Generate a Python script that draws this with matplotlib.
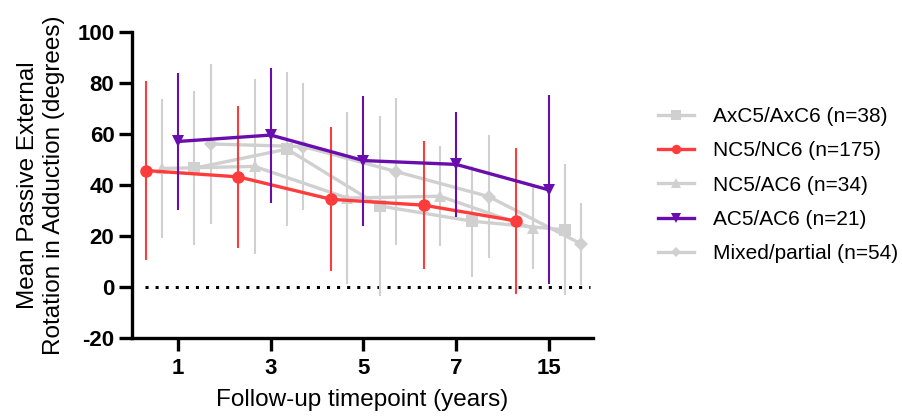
import matplotlib
matplotlib.use("Agg")
import matplotlib.pyplot as plt
from matplotlib.lines import Line2D
import numpy as np

plt.rcParams["font.family"] = ["Liberation Sans", "DejaVu Sans"]
plt.rcParams["axes.unicode_minus"] = False

timepoints = ["1", "3", "5", "7", "15"]

groups = ["AxC5/AxC6 (n=38)", "NC5/NC6 (n=175)", "NC5/AC6 (n=34)", "AC5/AC6 (n=21)", "Mixed/partial (n=54)"]

axc_mean = [46.5, 54.0, 31.7, 25.7, 22.3]
axc_sd = [30.3, 30.2, 35.3, 21.8, 25.7]
nc_mean = [45.6, 43.1, 34.3, 32.0, 25.8]
nc_sd = [35.3, 27.8, 28.2, 25.2, 28.7]
ncac_mean = [46.4, 47.2, 34.8, 35.5, 23.0]
ncac_sd = [27.4, 34.2, 33.6, 19.7, 16.0]
ac_mean = [57.0, 59.5, 49.5, 48.0, 38.0]
ac_sd = [27.0, 26.5, 25.5, 20.7, 37.1]
mixed_mean = [56.0, 55.0, 45.2, 35.4, 16.8]
mixed_sd = [31.2, 24.8, 29.0, 24.0, 16.0]

GRAY = "#d0d0d0"
RED = "#ff3c3c"
PURPLE = "#6a0dad"

# (mean, sd, x offset, colour, marker, zorder)
styles = [
    (axc_mean, axc_sd, 0.175, GRAY, "s", 2),
    (nc_mean, nc_sd, -0.35, RED, "o", 4),
    (ncac_mean, ncac_sd, -0.175, GRAY, "^", 2),
    (ac_mean, ac_sd, 0.0, PURPLE, "v", 5),
    (mixed_mean, mixed_sd, 0.35, GRAY, "D", 2),
]

fig = plt.figure(figsize=(9.03, 4.19), dpi=100)
ax = fig.add_axes([0.146, 0.194, 0.511, 0.730])

x = np.arange(len(timepoints))
handles = []
for label, (mean, sd, off, color, marker, z) in zip(groups, styles):
    ms = 9 if marker != "D" else 7
    ax.errorbar(
        x + off, mean, yerr=sd,
        color=color, ecolor=color, elinewidth=1.5, capsize=4.3, capthick=1.5,
        linewidth=2.4, marker=marker, markersize=ms,
        markeredgewidth=0, zorder=z,
    )
    handles.append(Line2D([], [], color=color, linewidth=2.4, marker=marker,
                          markersize=ms * 0.75, markeredgewidth=0, label=label))

ax.plot([-0.36, 4.45], [0, 0], color="black", linestyle=(0, (1, 2.3)), linewidth=2.2, zorder=1)

ax.set_xlim(-0.5, 4.48)
ax.set_ylim(-20, 100)
ax.set_yticks(np.arange(-20, 101, 20))
ax.set_xticks(x)
ax.set_xticklabels(timepoints)

for side in ["top", "right"]:
    ax.spines[side].set_visible(False)
for side in ["left", "bottom"]:
    ax.spines[side].set_linewidth(2.4)
ax.tick_params(axis="both", width=2.4, length=9.5, labelsize=16)
ax.tick_params(axis="x", pad=5)
ax.tick_params(axis="y", pad=3)
for t in ax.get_xticklabels() + ax.get_yticklabels():
    t.set_fontweight("bold")

ax.set_xlabel("Follow-up timepoint (years)", fontsize=17.5, labelpad=7)
ax.set_ylabel("Mean Passive External\nRotation in Adduction (degrees)", fontsize=17.5,
              labelpad=9, linespacing=1.2)

ax.legend(handles=handles, loc="upper left", bbox_to_anchor=(0.72, 0.764), bbox_transform=fig.transFigure,
          frameon=False, fontsize=15, handlelength=1.7, labelspacing=0.73, handletextpad=0.9,
          borderaxespad=0)

fig.savefig("out.png", dpi=100)
